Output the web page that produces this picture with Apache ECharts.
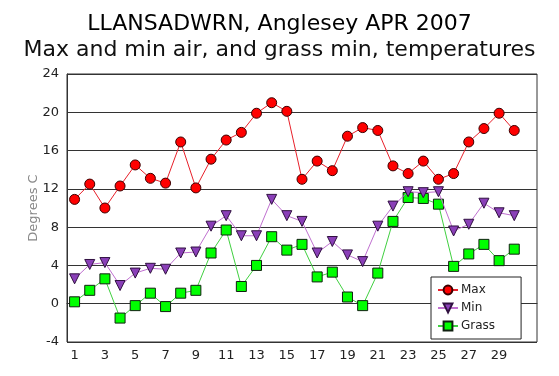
<!DOCTYPE html>
<html>
<head>
<meta charset="utf-8">
<script src="https://cdn.jsdelivr.net/npm/echarts@6/dist/echarts.min.js"></script>
<style>html,body{margin:0;padding:0;background:#fff}#c{width:559px;height:376px}</style>
</head>
<body>
<div id="c"></div>
<script>
const titleLines = ['LLANSADWRN, Anglesey APR 2007', 'Max and min air, and grass min, temperatures'];
const days = ['1','2','3','4','5','6','7','8','9','10','11','12','13','14','15','16','17','18','19','20','21','22','23','24','25','26','27','28','29','30','31'];
const maxTemp = [10.9,12.5,10.0,12.3,14.5,13.1,12.6,16.9,12.1,15.1,17.1,17.9,19.9,21.0,20.1,13.0,14.9,13.9,17.5,18.4,18.1,14.4,13.6,14.9,13.0,13.6,16.9,18.3,19.9,18.1];
const minTemp = [2.6,4.1,4.3,1.9,3.2,3.7,3.6,5.3,5.4,8.1,9.2,7.1,7.1,10.9,9.2,8.6,5.3,6.5,5.1,4.4,8.1,10.2,11.7,11.6,11.7,7.6,8.3,10.5,9.5,9.2];
const grassMin = [0.2,1.4,2.6,-1.5,-0.2,1.1,-0.3,1.1,1.4,5.3,7.7,1.8,4.0,7.0,5.6,6.2,2.8,3.3,0.7,-0.2,3.2,8.6,11.1,11.0,10.4,3.9,5.2,6.2,4.5,5.7];
const yTicks = {min: -4, max: 24, step: 4};
const seriesNames = ['Max', 'Min', 'Grass'];
const axisName = 'Degrees C';

const font = 'DejaVu Sans';
const chart = echarts.init(document.getElementById('c'), null, {renderer: 'canvas'});
chart.setOption({
  animation: false,
  backgroundColor: '#fff',
  textStyle: {fontFamily: font},
  title: [
    {text: titleLines[0], left: 'center', top: 8, textStyle: {fontFamily: font, fontSize: 22, fontWeight: 'normal', color: '#000'}},
    {text: titleLines[1], left: 'center', top: 34, textStyle: {fontFamily: font, fontSize: 22, fontWeight: 'normal', color: '#111'}}
  ],
  grid: {left: 67, right: 22, top: 74, bottom: 34, show: true, borderColor: '#333', borderWidth: 1, backgroundColor: 'transparent'},
  legend: {
    data: seriesNames, orient: 'vertical', left: 431, top: 277,
    padding: [7, 26, 7, 6], itemWidth: 20, itemHeight: 11, itemGap: 6,
    borderColor: '#222', borderWidth: 1, backgroundColor: '#fff',
    textStyle: {fontFamily: font, fontSize: 12, color: '#222', padding: [0,0,0,-2]}
  },
  xAxis: {
    type: 'category', data: days, boundaryGap: true,
    axisLine: {show: true, lineStyle: {color: '#333'}},
    axisTick: {show: false},
    axisLabel: {fontFamily: font, fontSize: 13, color: '#222', margin: 7,
      interval: (i) => i % 2 === 0 && i < 30}
  },
  yAxis: {
    type: 'value', min: yTicks.min, max: yTicks.max, interval: yTicks.step,
    name: axisName, nameLocation: 'middle', nameGap: 27, nameMoveOverlap: false,
    nameTextStyle: {fontFamily: font, fontSize: 13, color: '#888'},
    axisLine: {show: true, lineStyle: {color: '#333'}},
    axisTick: {show: false},
    axisLabel: {fontFamily: font, fontSize: 13, color: '#222', margin: 8},
    splitLine: {show: true, lineStyle: {color: ['#333','#77735f','#333','#333','#333','#333','#333','#333'], width: 1}}
  },
  series: [
    {name: seriesNames[0], type: 'line', data: maxTemp, symbol: 'circle', symbolSize: 10,
     lineStyle: {color: '#e8202a', width: 1}, itemStyle: {color: '#ff0000', borderColor: '#3a0000', borderWidth: 1}, z: 4},
    {name: seriesNames[1], type: 'line', data: minTemp, symbol: 'triangle', symbolRotate: 180, symbolSize: 10,
     lineStyle: {color: '#c070d0', width: 1}, itemStyle: {color: '#8a3fb8', borderColor: '#301040', borderWidth: 1}, z: 3},
    {name: seriesNames[2], type: 'line', data: grassMin, symbol: 'rect', symbolSize: 10,
     lineStyle: {color: '#40d040', width: 1}, itemStyle: {color: '#00ff00', borderColor: '#102010', borderWidth: 1}, z: 2}
  ]
});
</script>
</body>
</html>
